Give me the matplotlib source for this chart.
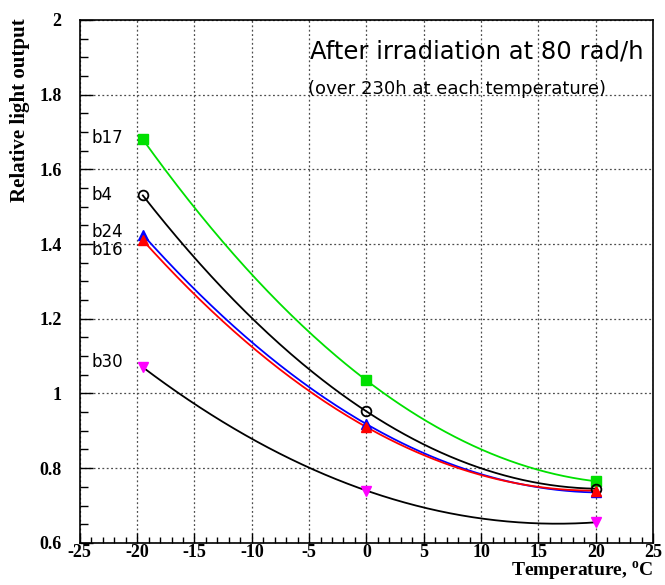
import numpy as np
import matplotlib
matplotlib.use("Agg")
import matplotlib.pyplot as plt
from matplotlib.ticker import MultipleLocator

plt.rcParams["mathtext.fontset"] = "custom"
plt.rcParams["mathtext.rm"] = "Liberation Serif:bold"
plt.rcParams["axes.unicode_minus"] = False

# temperatures of the three measurements (deg C)
temps = [-19.5, 0.0, 20.0]

# relative light output per sample
b17 = [1.68, 1.035, 0.765]
b4 = [1.53, 0.952, 0.745]
b24 = [1.425, 0.918, 0.735]
b16 = [1.41, 0.910, 0.740]
b30 = [1.07, 0.740, 0.655]

samples = ["b17", "b4", "b24", "b16", "b30"]
values = [b17, b4, b24, b16, b30]
line_colors = ["#00e000", "black", "blue", "red", "black"]
mark_colors = ["#00e000", "black", "blue", "red", "magenta"]
markers = ["s", "o", "^", "^", "v"]
label_y = [1.684, 1.532, 1.432, 1.385, 1.085]

fig = plt.figure(figsize=(6.65, 5.85), dpi=100)
ax = fig.add_axes([0.120, 0.072, 0.862, 0.894])

xs = np.linspace(temps[0], temps[-1], 200)
for name, v, lc, mc, m, ly in zip(samples, values, line_colors, mark_colors, markers, label_y):
    # second order polynomial through the points
    p = np.polyfit(temps, v, 2)
    ax.plot(xs, np.polyval(p, xs), color=lc, lw=1.3, zorder=3)
    if m == "o":
        ax.plot(temps, v, m, ms=7, mfc="none", mec=mc, mew=1.3, zorder=4)
    else:
        ax.plot(temps, v, m, ms=7, color=mc, zorder=4)
    ax.text(-23.95, ly, name, fontsize=12, family="DejaVu Sans", va="center", zorder=5)

ax.set_xlim(-25, 25)
ax.set_ylim(0.6, 2.0)
ax.xaxis.set_major_locator(MultipleLocator(5))
ax.xaxis.set_minor_locator(MultipleLocator(1))
ax.yaxis.set_minor_locator(MultipleLocator(0.05))
ax.set_yticks([0.6, 0.8, 1.0, 1.2, 1.4, 1.6, 1.8, 2.0])
ax.set_yticklabels(["0.6", "0.8", "1", "1.2", "1.4", "1.6", "1.8", "2"])
ax.grid(True, which="major", linestyle=(0, (1.5, 2)), color="0.3", lw=0.9)
ax.tick_params(which="both", direction="in", top=False, right=False)
ax.tick_params(axis="x", which="major", length=7, width=1, pad=1)
ax.tick_params(axis="x", which="minor", length=4, width=1)
ax.tick_params(axis="y", which="major", length=9, width=1, pad=13)
ax.tick_params(axis="y", which="minor", length=6, width=1)
for lab in ax.get_xticklabels() + ax.get_yticklabels():
    lab.set_family("Liberation Serif")
    lab.set_fontweight("bold")
    lab.set_fontsize(13)
for s in ax.spines.values():
    s.set_linewidth(1.2)

ax.text(0.401, 0.927, "After irradiation at 80 rad/h", transform=ax.transAxes,
        fontsize=17.5, family="DejaVu Sans")
ax.text(0.398, 0.858, "(over 230h at each temperature)", transform=ax.transAxes,
        fontsize=13, family="DejaVu Sans")

fig.text(0.03, 0.968, "Relative light output", rotation=90, ha="center", va="top",
         family="Liberation Serif", fontweight="bold", fontsize=15)
fig.text(0.982, 0.003, "Temperature, $^{\\rm o}$C", ha="right", va="bottom",
         family="Liberation Serif", fontweight="bold", fontsize=14)

fig.savefig("out.png", dpi=100)
